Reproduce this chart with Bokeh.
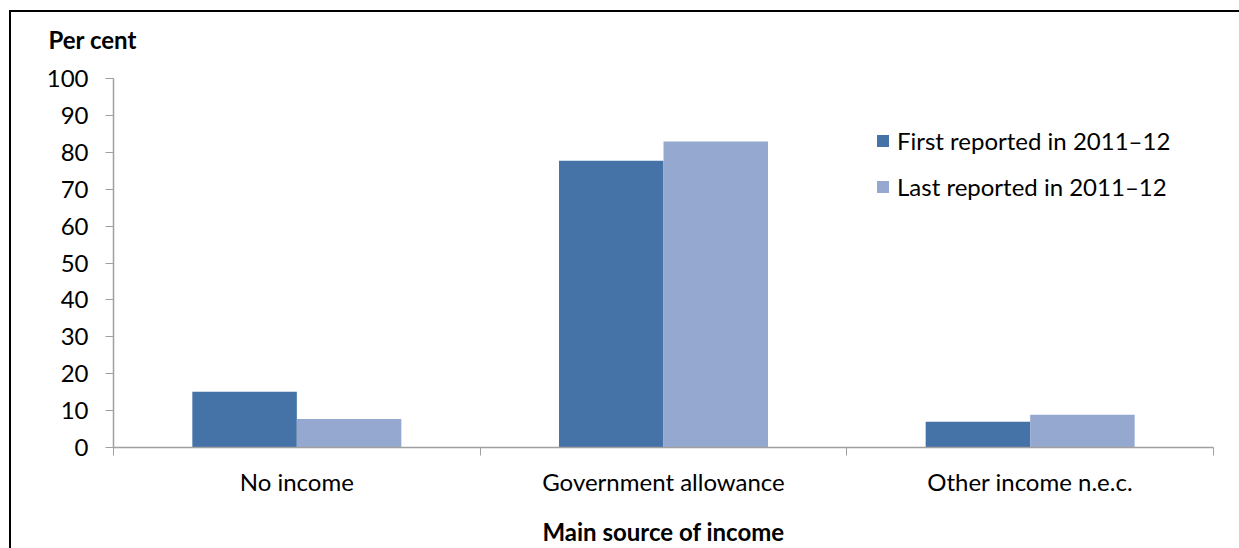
from bokeh.plotting import figure
from bokeh.layouts import column
from bokeh.models import (ColumnDataSource, FixedTicker, Legend, LegendItem, Title)
from bokeh.embed import file_html
from bokeh.resources import INLINE

# Main source of income, per cent of clients
categories = ["No income", "Government allowance", "Other income n.e.c."]
first_reported = [15.1, 77.7, 7.0]
last_reported = [7.7, 82.9, 8.9]
series_names = ["First reported in 2011\u201312", "Last reported in 2011\u201312"]
y_ticks = [0, 10, 20, 30, 40, 50, 60, 70, 80, 90, 100]

FONT = "Lato"
FS = "24px"
DARK = "#4572A7"
LIGHT = "#95A9D0"
AXIS = "#A0A0A0"
BAR_W = 0.285

centers = [i + 0.5 for i in range(len(categories))]
src = ColumnDataSource(dict(
    x_first=[c - BAR_W / 2 for c in centers],
    x_last=[c + BAR_W / 2 for c in centers],
    first=first_reported,
    last=last_reported,
))

fig = figure(width=1239, height=548,
             x_range=(0, len(categories)), y_range=(0, 100),
             output_backend="svg", toolbar_location=None,
             min_border_left=113, min_border_right=26,
             min_border_top=78, min_border_bottom=101)
fig.outline_line_color = None
fig.grid.visible = False
fig.background_fill_color = "white"
fig.border_fill_color = None

r1 = fig.vbar(x="x_first", top="first", width=BAR_W, source=src,
              fill_color=DARK, line_color=None)
r2 = fig.vbar(x="x_last", top="last", width=BAR_W, source=src,
              fill_color=LIGHT, line_color=None)

# y axis
ya = fig.yaxis[0]
ya.ticker = FixedTicker(ticks=y_ticks)
ya.axis_line_color = AXIS
ya.axis_line_width = 1.5
ya.major_tick_line_color = AXIS
ya.major_tick_out = 8
ya.major_tick_in = 0
ya.minor_tick_line_color = None
ya.major_label_standoff = 17
ya.major_label_text_font = FONT
ya.major_label_text_font_size = FS
ya.major_label_text_color = "black"

# x axis: labels at category centres, ticks on category boundaries
xa = fig.xaxis[0]
xa.ticker = FixedTicker(ticks=centers, minor_ticks=[0, 1, 2, 3])
xa.major_label_overrides = {c: name for c, name in zip(centers, categories)}
xa.axis_line_color = AXIS
xa.axis_line_width = 1.5
xa.major_tick_line_color = None
xa.minor_tick_line_color = AXIS
xa.minor_tick_out = 8
xa.minor_tick_in = 0
xa.major_label_standoff = 11
xa.major_label_text_font = FONT
xa.major_label_text_font_size = FS
xa.major_label_text_color = "black"
xa.axis_label = "Main source of income"
xa.axis_label_text_font = FONT
xa.axis_label_text_font_size = FS
xa.axis_label_text_font_style = "bold"
xa.axis_label_text_color = "black"
xa.axis_label_standoff = 18

legend = Legend(items=[LegendItem(label=series_names[0], renderers=[r1]),
                       LegendItem(label=series_names[1], renderers=[r2])],
                location=(762, 246), orientation="vertical",
                glyph_width=15, glyph_height=15, label_height=24,
                spacing=17, padding=0, margin=0, label_standoff=7,
                label_text_font=FONT, label_text_font_size=FS,
                label_text_color="black",
                border_line_color=None, background_fill_alpha=0)
fig.add_layout(legend)

fig.add_layout(Title(text="Per cent", align="left", offset=-65, standoff=46,
                     vertical_align="top",
                     text_font=FONT, text_font_size=FS, text_font_style="bold",
                     text_color="black"), "above")

# chart-area frame: black rule along the left and top edges, painted
# behind the figure's transparent border area
p = column(fig, width=1239, height=548, styles={
    "background-color": "white",
    "background-image": "linear-gradient(#000, #000), linear-gradient(#000, #000)",
    "background-position": "9px 10px, 9px 10px",
    "background-size": "2px 100%, 100% 2px",
    "background-repeat": "no-repeat, no-repeat",
})

open("out.html", "w").write(file_html(p, INLINE))
